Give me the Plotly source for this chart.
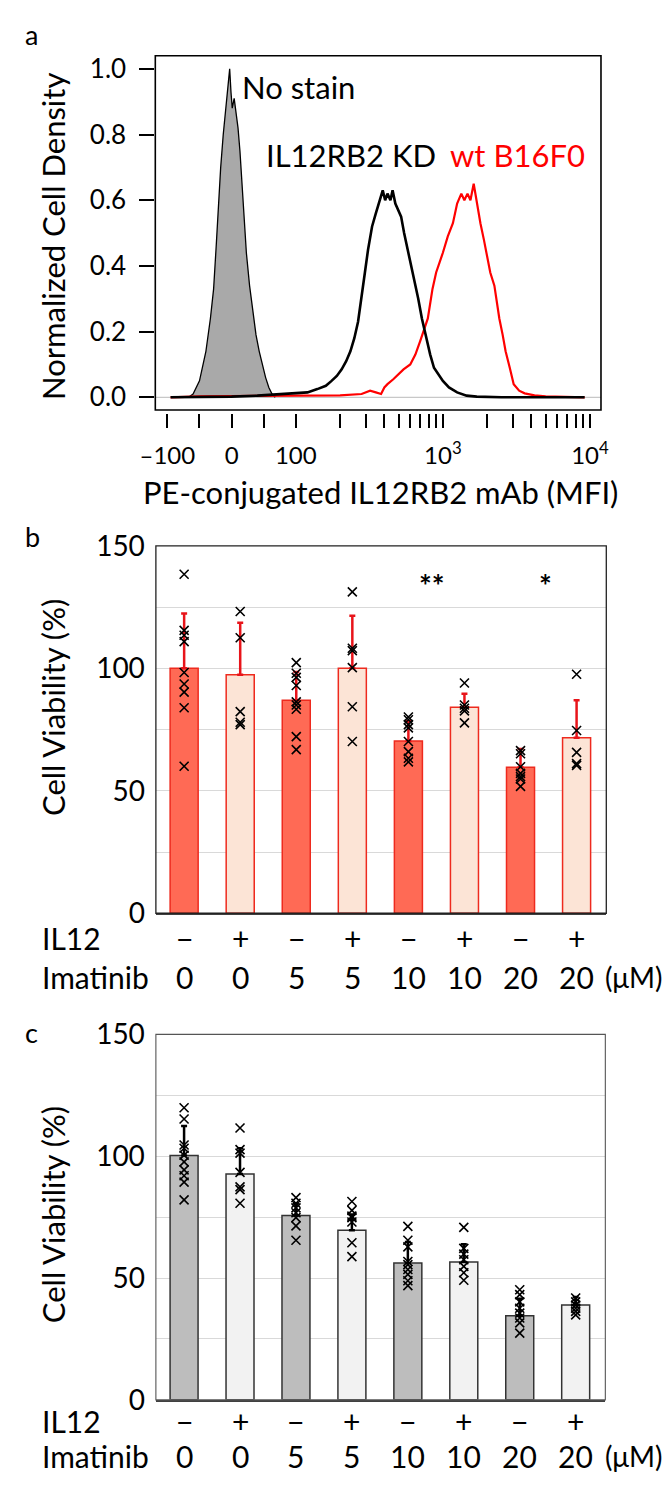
import numpy as np
import plotly.graph_objects as go

W, H = 671, 1488
FONT = "Lato"

# ---------------- Panel a data (MFI, normalized density) ----------------
nostain_mfi = [-67, -60, -50, -40, -33, -28, -24, -20, -17, -13, -10, -7, -5, -3, -1, 1, 4, 7, 10,
               13, 16, 19, 23, 28, 33, 38, 43, 48, 53, 58, 63, 68]
nostain_den = [0.0, 0.01, 0.05, 0.14, 0.24, 0.33, 0.46, 0.60, 0.70, 0.80, 0.86, 0.90, 0.95, 1.00, 0.93,
               0.88, 0.91, 0.87, 0.82, 0.75, 0.65, 0.56, 0.44, 0.34, 0.26, 0.19, 0.14, 0.10, 0.06, 0.03,
               0.01, 0.0]

kd_mfi = [-95, -60, 0, 40, 80, 100, 120, 140, 160, 175, 190, 205, 220, 235, 250, 265, 280, 295, 310,
          330, 350, 370, 390, 405, 420, 440, 455, 475, 500, 520, 545, 570, 600, 640, 680, 720, 770,
          820, 870, 930, 1000, 1100, 1250, 1450, 1700, 2500, 9200]
kd_den = [0.0, 0.0, 0.002, 0.005, 0.01, 0.012, 0.015, 0.025, 0.035, 0.05, 0.065, 0.085, 0.11, 0.14,
          0.18, 0.23, 0.30, 0.38, 0.45, 0.52, 0.56, 0.60, 0.63, 0.60, 0.62, 0.60, 0.63, 0.59, 0.57,
          0.55, 0.50, 0.46, 0.42, 0.36, 0.30, 0.24, 0.18, 0.13, 0.09, 0.07, 0.05, 0.03, 0.015, 0.005,
          0.002, 0.0, 0.0]

wt_mfi = [-95, -50, 0, 100, 200, 280, 320, 350, 380, 400, 420, 460, 500, 540, 600, 650, 700, 750, 790,
          850, 900, 1000, 1080, 1170, 1250, 1335, 1400, 1470, 1540, 1620, 1700, 1800, 1900, 1980,
          2100, 2240, 2420, 2550, 2670, 2850, 3030, 3300, 3600, 4200, 5000, 9200]
wt_den = [0.0, 0.003, 0.004, 0.005, 0.006, 0.01, 0.02, 0.015, 0.01, 0.03, 0.04, 0.055, 0.07, 0.085,
          0.10, 0.13, 0.17, 0.21, 0.24, 0.33, 0.38, 0.44, 0.49, 0.53, 0.59, 0.62, 0.60, 0.62, 0.60,
          0.65, 0.59, 0.53, 0.48, 0.44, 0.38, 0.34, 0.24, 0.19, 0.14, 0.09, 0.04, 0.02, 0.012, 0.006,
          0.003, 0.0]

a_tick_mfi = [-100, -50, 0, 50, 100, 200, 300, 400, 500, 600, 700, 800, 900, 1000,
              2000, 3000, 4000, 5000, 6000, 7000, 8000, 9000, 10000]
a_tick_text = {-100: "\u2013100", 0: "0", 100: "100", 1000: "10<sup>3</sup>", 10000: "10<sup>4</sup>"}
a_yticks = [0.0, 0.2, 0.4, 0.6, 0.8, 1.0]

# ---------------- Panel b / c data ----------------
il12 = ["\u2212", "+", "\u2212", "+", "\u2212", "+", "\u2212", "+"]
imatinib = ["0", "0", "5", "5", "10", "10", "20", "20"]

b_mean = [100.0, 97.4, 87.0, 100.0, 70.3, 84.1, 59.6, 71.6]
b_sd = [22.4, 21.2, 11.5, 21.5, 8.1, 5.5, 7.5, 15.4]
b_points = [
    [138.4, 115.5, 113.5, 110.9, 98.3, 93.6, 90.3, 83.9, 60.0],
    [123.2, 112.5, 82.3, 78.0, 77.0],
    [102.3, 98.0, 96.3, 93.0, 86.3, 85.0, 83.3, 72.1, 66.8],
    [131.2, 108.2, 107.2, 100.3, 84.3, 70.1],
    [80.1, 79.0, 77.0, 75.7, 70.1, 66.0, 63.3, 61.8],
    [94.0, 85.0, 83.7, 82.6, 77.7],
    [66.4, 65.1, 59.8, 57.1, 55.8, 54.8, 51.8],
    [97.6, 74.6, 65.7, 61.1, 60.4],
]
b_sig_text = ["**", "*"]
b_sig_x = [4.42, 6.44]
b_sig_y = [134, 134]

c_mean = [100.3, 92.7, 75.7, 69.6, 56.2, 56.6, 34.5, 38.9]
c_sd = [12.1, 10.6, 5.0, 6.5, 8.6, 7.3, 7.0, 3.3]
c_points = [
    [119.9, 115.3, 104.6, 103.3, 100.4, 97.7, 94.4, 92.0, 89.4, 82.1],
    [111.6, 102.7, 101.3, 93.4, 87.4, 86.3, 80.7],
    [83.0, 80.7, 78.8, 76.8, 74.8, 71.4, 65.5],
    [81.4, 77.8, 75.4, 74.8, 73.0, 64.5, 58.8],
    [71.2, 65.5, 62.8, 56.8, 55.5, 53.5, 51.5, 48.9, 46.9],
    [70.8, 62.2, 59.8, 57.5, 54.8, 52.2, 49.1],
    [45.2, 43.2, 40.2, 37.6, 35.6, 33.6, 31.6, 27.4],
    [41.8, 40.2, 38.9, 37.6, 36.3, 34.9],
]
bar_y_ticks = [0, 25, 50, 75, 100, 125, 150]
bar_y_text = ["0", " ", "50", " ", "100", " ", "150"]


def logicle(v):
    v = np.asarray(v, dtype=float)
    return np.where(v <= 100, v / 100.0, 1 + 2.29 * np.log10(np.maximum(v, 1e-9) / 100.0))


def fx(px):
    return px / W


def fy(py):
    return 1 - py / H


fig = go.Figure()

# ---- panel a traces
fig.add_trace(go.Scatter(x=logicle(nostain_mfi), y=nostain_den, mode="lines", fill="tozeroy",
                         fillcolor="#A9A9A9", line=dict(color="black", width=1.3),
                         xaxis="x", yaxis="y", showlegend=False))
fig.add_trace(go.Scatter(x=logicle(wt_mfi), y=wt_den, mode="lines",
                         line=dict(color="#FF0000", width=2.2), xaxis="x", yaxis="y", showlegend=False))
fig.add_trace(go.Scatter(x=logicle(kd_mfi), y=kd_den, mode="lines",
                         line=dict(color="black", width=2.6), xaxis="x", yaxis="y", showlegend=False))

# ---- panel b / c traces
cats = list(range(8))


def add_bar_panel(means, sds, points, colors, lines, errcolor, xa, ya):
    fig.add_trace(go.Bar(x=cats, y=means, width=0.5,
                         marker=dict(color=colors, line=dict(color=lines, width=1.5)),
                         error_y=dict(type="data", symmetric=False, array=sds,
                                      arrayminus=[0] * len(sds), color=errcolor,
                                      thickness=2.5, width=3),
                         xaxis=xa, yaxis=ya, showlegend=False))
    px_, py_ = [], []
    for i, pts in enumerate(points):
        px_ += [i] * len(pts)
        py_ += pts
    fig.add_trace(go.Scatter(x=px_, y=py_, mode="markers",
                             marker=dict(symbol="x-thin", size=9, color="black",
                                         line=dict(color="black", width=1.6)),
                             xaxis=xa, yaxis=ya, showlegend=False))


add_bar_panel(b_mean, b_sd, b_points, ["#FF6A55", "#FCE4D6"] * 4, "#EE2A1E", "#E8141A", "x2", "y2")
add_bar_panel(c_mean, c_sd, c_points, ["#BDBDBD", "#F2F2F2"] * 4, "#333333", "black", "x3", "y3")

xtick_font = dict(family=FONT, size=24, color="black")
ytick_font = dict(family=FONT, size=26, color="black")
ann_font = dict(family=FONT, size=31, color="black")
title_font = dict(family=FONT, size=31, color="black")
bar_tick_font = dict(family=FONT, size=28, color="black")
row_font = dict(family=FONT, size=30, color="black")
unit_font = dict(family=FONT, size=28, color="black")
bar_title_font = dict(family=FONT, size=31, color="black")

layout = dict(
    width=W, height=H, margin=dict(l=0, r=0, t=0, b=0),
    paper_bgcolor="white", plot_bgcolor="white", font=dict(family=FONT, color="black"),
    xaxis=dict(domain=[fx(137), fx(598.5)], range=[-1.188, 5.752], anchor="free", position=fy(396),
               showline=False, showgrid=False, zeroline=False, ticks="outside", ticklen=14,
               tickwidth=2, tickcolor="black", tickvals=list(logicle(a_tick_mfi)),
               ticktext=[a_tick_text.get(v, " ") for v in a_tick_mfi], tickfont=xtick_font,
               tickangle=0, ticklabelstandoff=7),
    yaxis=dict(domain=[fy(393), fy(30.5)], range=[-0.0387, 1.0396], anchor="x",
               showline=False, showgrid=False, zeroline=False, ticks="outside", ticklen=15,
               tickwidth=2, tickcolor="black", tickvals=a_yticks,
               ticktext=["%.1f" % v for v in a_yticks], tickfont=ytick_font, ticklabelstandoff=8),
)
for n, (top, bot, right) in {"2": (532, 908, 604), "3": (1032, 1406, 603)}.items():
    layout["xaxis" + n] = dict(domain=[fx(137.6), fx(right)], range=[-0.504, 7.53], anchor="y" + n,
                               showticklabels=False, ticks="", showline=True, linecolor="#404040",
                               linewidth=2, showgrid=False, zeroline=False)
    layout["yaxis" + n] = dict(domain=[fy(bot), fy(top)], range=[0, 150], anchor="x" + n,
                               tickvals=bar_y_ticks, ticktext=bar_y_text, showgrid=True,
                               gridcolor="#D9D9D9", gridwidth=1, zeroline=False, ticks="",
                               showline=False, tickfont=bar_tick_font, ticklabelstandoff=10)
fig.update_layout(**layout)

shapes = [
    dict(type="line", xref="x domain", yref="y", x0=0, x1=1, y0=0, y1=0,
         line=dict(color="#BBBBBB", width=1), layer="below"),
    dict(type="rect", xref="x domain", yref="y domain", x0=0, x1=1, y0=0, y1=1,
         line=dict(color="black", width=1.6)),
    dict(type="rect", xref="x2 domain", yref="y2 domain", x0=0, x1=1, y0=0, y1=1,
         line=dict(color="#222222", width=1.3)),
    dict(type="rect", xref="x3 domain", yref="y3 domain", x0=0, x1=1, y0=0, y1=1,
         line=dict(color="#555555", width=1.1)),
]
fig.update_layout(shapes=shapes)

ann = []


def text(t, x, y, font, xref="paper", yref="paper", xanchor="center", angle=0):
    ann.append(dict(text=t, x=x, y=y, xref=xref, yref=yref, xanchor=xanchor, yanchor="middle",
                    textangle=angle, showarrow=False, font=font))


# panel letters
for letter, py in [("a", 9), ("b", 522), ("c", 1030)]:
    text(letter, 0, fy(py), dict(family=FONT, size=27), xanchor="left")
# panel a texts
text("No stain", fx(285), fy(62), ann_font)
text("IL12RB2 KD", fx(340), fy(132), ann_font)
text("wt B16F0", fx(512), fy(132), dict(family=FONT, size=31, color="#FF0000"))
text("Normalized Cell Density", fx(31), fy(215), title_font, angle=-90)
text("PE-conjugated IL12RB2 mAb (MFI)", fx(370), fy(477), title_font)
# bar panel texts
for xa, title_y, row1, row2 in [("x2", 697, 933, 973), ("x3", 1216, 1428, 1463)]:
    text("Cell Viability (%)", fx(31), fy(title_y), bar_title_font, angle=-90)
    text("IL12", fx(18), fy(row1), row_font, xanchor="left")
    text("Imatinib", fx(18), fy(row2), row_font, xanchor="left")
    for i in cats:
        text(il12[i], i, fy(row1), row_font, xref=xa)
        text(imatinib[i], i, fy(row2), row_font, xref=xa)
    text("(\u03bcM)", fx(601), fy(row2), unit_font, xanchor="left")
for t, sx, sy in zip(b_sig_text, b_sig_x, b_sig_y):
    text("<b>" + t + "</b>", sx, sy, dict(family=FONT, size=30), xref="x2", yref="y2")
fig.update_layout(annotations=ann)

fig.write_html("out.html")
